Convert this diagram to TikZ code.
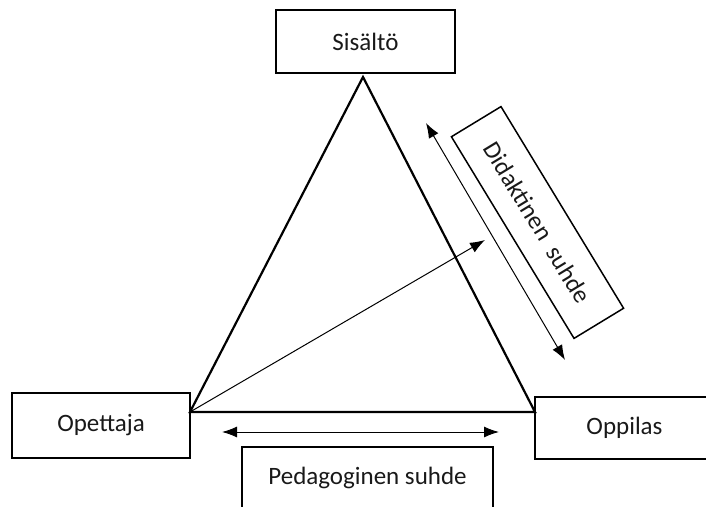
\documentclass[tikz,border=0pt]{standalone}
\usepackage{fontspec}
\setmainfont{Carlito}
\usetikzlibrary{arrows.meta}

\begin{document}
\begin{tikzpicture}[x=1pt, y=1pt, every node/.style={draw, line width=1.5pt, text=black!90, font=\fontsize{25}{30}\selectfont, inner sep=0pt}]
	\tikzset{arr/.style={line width=1pt, {Latex[length=15pt,width=11pt]}-{Latex[length=15pt,width=11pt]}}}
	\path[use as bounding box, clip] (0,0) rectangle (706,506);
	\node[minimum width=179pt, minimum height=63pt] (sis) at (365.5,464.5) {Sisältö};
	\node[minimum width=178pt, minimum height=65pt] (ope) at (101,80.5) {Opettaja};
	\node[minimum width=179pt, minimum height=62pt] (opp) at (624.5,78) {Oppilas};
	\node[minimum width=251pt, minimum height=62pt] (ped) at (367.5,28) {Pedagoginen suhde};
	\node[minimum width=236pt, minimum height=58pt, rotate=-58.7] (did) at (537.5,283.5) {Didaktinen\ \ suhde};
	\coordinate (apex) at (363,429);
	\coordinate (vl) at (190,94);
	\coordinate (vr) at (535,94);
	\coordinate (p1) at (222,74);
	\coordinate (p2) at (499,74);
	\coordinate (d1) at (426,383);
	\coordinate (d2) at (565,146);
	\coordinate (dtip) at (485,266);
	\draw[line width=2.2pt] (apex) -- (vl) -- (vr) -- cycle;
	\draw[arr] (p1) -- (p2);
	\draw[arr] (d1) -- (d2);
	\draw[line width=1pt, -{Latex[length=15pt,width=11pt]}] (vl) -- (dtip);
\end{tikzpicture}
\end{document}
